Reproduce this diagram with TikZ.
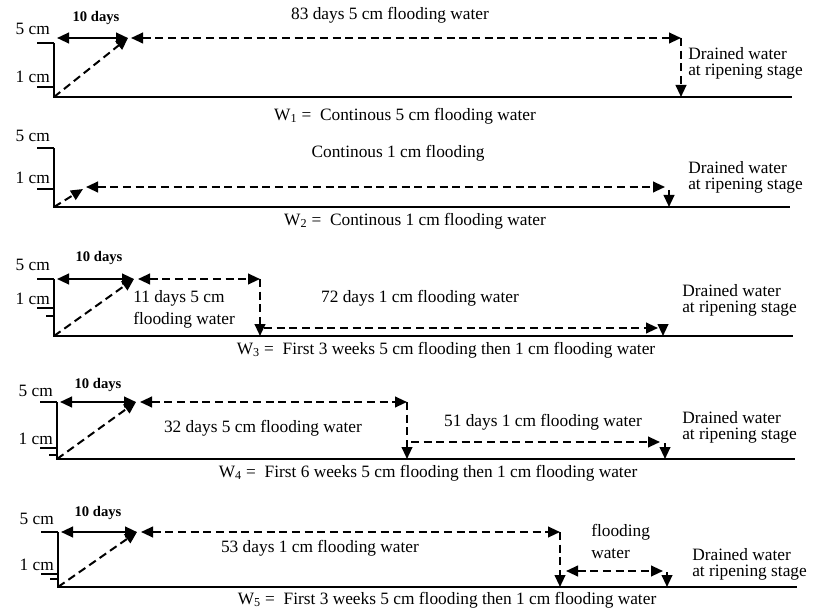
\documentclass[tikz,border=0pt]{standalone}
\usepackage{fontspec}
\setmainfont{Liberation Serif}
\usetikzlibrary{arrows.meta,positioning}

\begin{document}
\begin{tikzpicture}[x=0.75pt, y=-0.75pt, >={Triangle[length=9pt,width=8pt]},
    level/.style={line width=1.8pt},
    tick/.style={line width=1.4pt},
    flood/.style={line width=1.5pt, dash pattern=on 6pt off 3.5pt},
    span/.style={line width=1.6pt, <->},
    txt/.style={inner sep=0pt, font=\fontsize{13}{15}\selectfont},
    days/.style={inner sep=0pt, font=\fontsize{11}{13}\selectfont\bfseries},
    note/.style={txt, align=left, anchor=west, font=\fontsize{13}{12}\selectfont},
    pair/.style={txt, align=left, anchor=west, font=\fontsize{13}{16.5}\selectfont}]
    \useasboundingbox[fill=white] (0,0) rectangle (827,616);

    \coordinate (O1) at (54,97);   \coordinate (T1) at (54,43);   \coordinate (E1) at (792,97);
    \coordinate (U1) at (54,87);
    \coordinate (A1) at (57,38);   \coordinate (B1) at (128,38);
    \coordinate (P1) at (131,38);  \coordinate (C1) at (681,38);
    \draw[level] (T1) -- (O1) -- (E1);
    \draw[tick] (T1) -- ++(-17,0);
    \draw[tick] (U1) -- ++(-17,0);
    \draw[span] (A1) -- (B1);
    \draw[flood,->] (O1) -- (B1);
    \draw[flood,<->] (P1) -- (C1);
    \draw[flood,->] (C1) -- (C1 |- E1);
    \node[days] (K1) at (96,18) {10 days};
    \node[txt] (L1) at (390,15) {83 days 5 cm flooding water};
    \node[txt, anchor=east] (M1) at (50,29) {5 cm};
    \node[txt, anchor=east] (N1) at (50,77) {1 cm};
    \node[note] (R1) at (688,63) {Drained water\\at ripening stage};
    \node[txt] (W1) at (405,116) {W\textsubscript{1} = \ Continous 5 cm flooding water};

    \coordinate (O2) at (54,207);  \coordinate (T2) at (54,148);  \coordinate (E2) at (790,207);
    \coordinate (U2) at (54,189);
    \coordinate (S2) at (83,189);  \coordinate (A2) at (86,187);
    \coordinate (C2) at (665,187); \coordinate (D2) at (669,190);
    \draw[level] (T2) -- (O2) -- (E2);
    \draw[tick] (T2) -- ++(-17,0);
    \draw[tick] (U2) -- ++(-17,0);
    \draw[flood,->] (O2) -- (S2);
    \draw[flood,<->] (A2) -- (C2);
    \draw[line width=1.5pt,->] (D2) -- (D2 |- E2);
    \node[txt, anchor=east] (M2) at (50,136) {5 cm};
    \node[txt, anchor=east] (N2) at (50,178) {1 cm};
    \node[txt] (L2) at (398,153) {Continous 1 cm flooding};
    \node[note] (R2) at (688,177) {Drained water\\at ripening stage};
    \node[txt] (W2) at (415,221) {W\textsubscript{2} = \ Continous 1 cm flooding water};

    \coordinate (O3) at (54,336);  \coordinate (T3) at (54,279);  \coordinate (E3) at (793,336);
    \coordinate (U3) at (54,308);  \coordinate (V3) at (54,316);
    \coordinate (A3) at (57,279);  \coordinate (B3) at (134,279);
    \coordinate (P3) at (138,279); \coordinate (C3) at (260,279);
    \coordinate (F3) at (264,328); \coordinate (G3) at (658,328); \coordinate (D3) at (663,329);
    \draw[level] (T3) -- (O3) -- (E3);
    \draw[tick] (T3) -- ++(-17,0);
    \draw[tick] (U3) -- ++(-17,0);
    \draw[tick] (V3) -- ++(-8,0);
    \draw[span] (A3) -- (B3);
    \draw[flood,->] (O3) -- (B3);
    \draw[flood,<->] (P3) -- (C3);
    \draw[flood,->] (C3) -- (C3 |- E3);
    \draw[flood,->] (F3) -- (G3);
    \draw[line width=1.5pt,->] (D3) -- (D3 |- E3);
    \node[days] (K3) at (99,258) {10 days};
    \node[txt, anchor=east] (M3) at (50,265) {5 cm};
    \node[txt, anchor=east] (N3) at (50,299) {1 cm};
    \node[pair] (J3) at (133,309) {11 days 5 cm\\flooding water};
    \node[txt] (L3) at (420,298) {72 days 1 cm flooding water};
    \node[note] (R3) at (682,300) {Drained water\\at ripening stage};
    \node[txt] (W3) at (446,350) {W\textsubscript{3} = \ First 3 weeks 5 cm flooding then 1 cm flooding water};

    \coordinate (O4) at (57,459);  \coordinate (T4) at (57,402);  \coordinate (E4) at (795,459);
    \coordinate (U4) at (57,448);  \coordinate (V4) at (57,455);
    \coordinate (A4) at (60,402);  \coordinate (B4) at (136,402);
    \coordinate (P4) at (140,402); \coordinate (C4) at (407,402);
    \coordinate (F4) at (411,442); \coordinate (G4) at (660,442); \coordinate (D4) at (665,443);
    \draw[level] (T4) -- (O4) -- (E4);
    \draw[tick] (T4) -- ++(-17,0);
    \draw[tick] (U4) -- ++(-17,0);
    \draw[tick] (V4) -- ++(-8,0);
    \draw[span] (A4) -- (B4);
    \draw[flood,->] (O4) -- (B4);
    \draw[flood,<->] (P4) -- (C4);
    \draw[flood,->] (C4) -- (C4 |- E4);
    \draw[flood,->] (F4) -- (G4);
    \draw[line width=1.5pt,->] (D4) -- (D4 |- E4);
    \node[days] (K4) at (98,385) {10 days};
    \node[txt, anchor=east] (M4) at (53,391) {5 cm};
    \node[txt, anchor=east] (N4) at (53,439) {1 cm};
    \node[txt] (J4) at (263,428) {32 days 5 cm flooding water};
    \node[txt] (L4) at (543,422) {51 days 1 cm flooding water};
    \node[note] (R4) at (682,427) {Drained water\\at ripening stage};
    \node[txt] (W4) at (428,473) {W\textsubscript{4} = \ First 6 weeks 5 cm flooding then 1 cm flooding water};

    \coordinate (O5) at (58,587);  \coordinate (T5) at (58,532);  \coordinate (E5) at (797,587);
    \coordinate (U5) at (58,574);  \coordinate (V5) at (58,579);
    \coordinate (A5) at (61,532);  \coordinate (B5) at (137,532);
    \coordinate (P5) at (141,532); \coordinate (C5) at (560,532);
    \coordinate (F5) at (566,571); \coordinate (G5) at (663,571); \coordinate (D5) at (667,572);
    \draw[level] (T5) -- (O5) -- (E5);
    \draw[tick] (T5) -- ++(-17,0);
    \draw[tick] (U5) -- ++(-17,0);
    \draw[tick] (V5) -- ++(-8,0);
    \draw[span] (A5) -- (B5);
    \draw[flood,->] (O5) -- (B5);
    \draw[flood,<->] (P5) -- (C5);
    \draw[flood,->] (C5) -- (C5 |- E5);
    \draw[flood,<->] (F5) -- (G5);
    \draw[line width=1.5pt,->] (D5) -- (D5 |- E5);
    \node[days] (K5) at (98,513) {10 days};
    \node[txt, anchor=east] (M5) at (54,519) {5 cm};
    \node[txt, anchor=east] (N5) at (54,565) {1 cm};
    \node[txt] (J5) at (320,548) {53 days 1 cm flooding water};
    \node[pair] (L5) at (591,541) {flooding\\water};
    \node[note] (R5) at (692,564) {Drained water\\at ripening stage};
    \node[txt] (W5) at (447,600) {W\textsubscript{5} = \ First 3 weeks 5 cm flooding then 1 cm flooding water};
\end{tikzpicture}
\end{document}
